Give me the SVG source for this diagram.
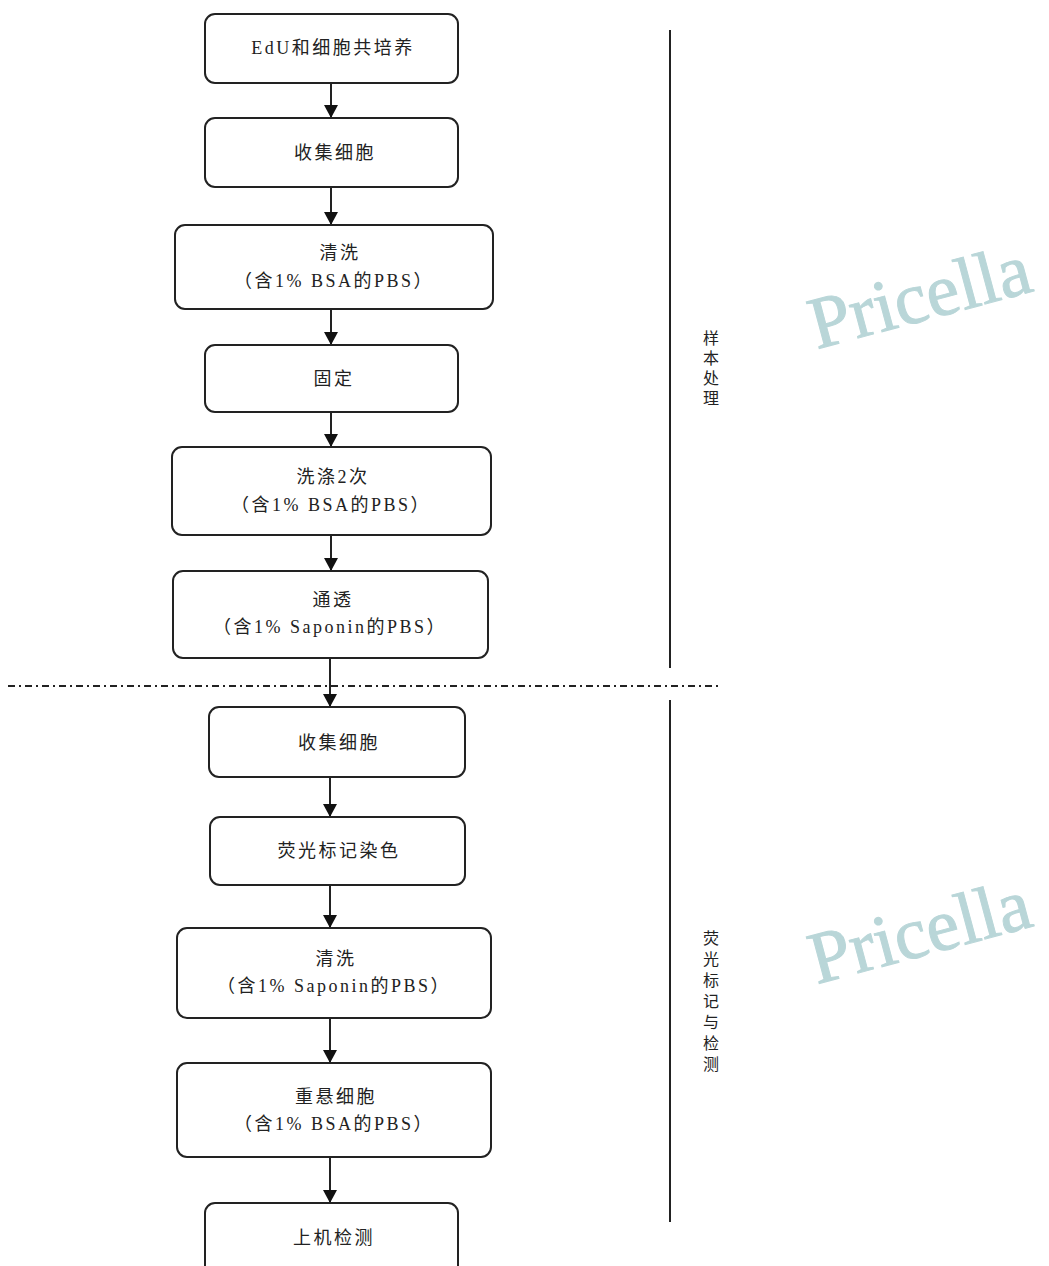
<svg xmlns="http://www.w3.org/2000/svg" width="1049" height="1266" viewBox="0 0 1049 1266">
<style>
.box{fill:#fff;stroke:#222;stroke-width:2}
.t{font-family:"Liberation Serif","Noto Sans CJK SC",serif;font-size:18px;fill:#222;text-anchor:middle;letter-spacing:2.5px}
.side{font-family:"Liberation Serif","Noto Sans CJK SC",serif;font-size:16px;fill:#222;text-anchor:middle}
.c{stroke:#222;stroke-width:2;fill:none;marker-end:url(#ah)}
.wm{font-family:"Liberation Serif",serif;font-size:74px;fill:#b9d6d8;text-anchor:middle;stroke:#b9d6d8;stroke-width:1}
</style>
<defs>
<marker id="ah" viewBox="0 0 13 14" refX="13" refY="7" markerWidth="13" markerHeight="14" markerUnits="userSpaceOnUse" orient="auto">
<path d="M0,0 L13,7 L0,14 Z" fill="#111"/>
</marker>
</defs>
<rect width="1049" height="1266" fill="#fff"/>
<g id="watermarks">
<text class="wm" transform="translate(926,320) rotate(-15)">Pricella</text>
<text class="wm" transform="translate(926,955) rotate(-15)">Pricella</text>
</g>
<g id="dividers">
<line x1="670" y1="30" x2="670" y2="668" stroke="#222" stroke-width="2"/>
<line x1="670" y1="700" x2="670" y2="1222" stroke="#222" stroke-width="2"/>
<line x1="8" y1="686" x2="722" y2="686" stroke="#222" stroke-width="2" stroke-dasharray="7,4,2,4"/>
</g>
<g id="connectors">
<line class="c" x1="331" y1="83" x2="331" y2="118"/>
<line class="c" x1="331" y1="187" x2="331" y2="225"/>
<line class="c" x1="331" y1="309" x2="331" y2="345"/>
<line class="c" x1="331" y1="412" x2="331" y2="447"/>
<line class="c" x1="331" y1="535" x2="331" y2="571"/>
<line class="c" x1="330" y1="658" x2="330" y2="707"/>
<line class="c" x1="330" y1="777" x2="330" y2="817"/>
<line class="c" x1="330" y1="885" x2="330" y2="928"/>
<line class="c" x1="330" y1="1018" x2="330" y2="1063"/>
<line class="c" x1="330" y1="1157" x2="330" y2="1203"/>
</g>
<g id="n1"><rect class="box" x="205" y="14" width="253" height="69" rx="10"/><text class="t" x="333" y="54">EdU和细胞共培养</text></g>
<g id="n2"><rect class="box" x="205" y="118" width="253" height="69" rx="10"/><text class="t" x="335" y="159">收集细胞</text></g>
<g id="n3"><rect class="box" x="175" y="225" width="318" height="84" rx="10"/><text class="t" x="340" y="259">清洗</text><text class="t" x="334" y="287">（含1% BSA的PBS）</text></g>
<g id="n4"><rect class="box" x="205" y="345" width="253" height="67" rx="10"/><text class="t" x="334" y="385">固定</text></g>
<g id="n5"><rect class="box" x="172" y="447" width="319" height="88" rx="10"/><text class="t" x="333" y="483">洗涤2次</text><text class="t" x="331" y="511">（含1% BSA的PBS）</text></g>
<g id="n6"><rect class="box" x="173" y="571" width="315" height="87" rx="10"/><text class="t" x="333" y="606">通透</text><text class="t" x="330" y="633">（含1% Saponin的PBS）</text></g>
<g id="n7"><rect class="box" x="209" y="707" width="256" height="70" rx="10"/><text class="t" x="339" y="749">收集细胞</text></g>
<g id="n8"><rect class="box" x="210" y="817" width="255" height="68" rx="10"/><text class="t" x="339" y="857">荧光标记染色</text></g>
<g id="n9"><rect class="box" x="177" y="928" width="314" height="90" rx="10"/><text class="t" x="336" y="965">清洗</text><text class="t" x="334" y="992">（含1% Saponin的PBS）</text></g>
<g id="n10"><rect class="box" x="177" y="1063" width="314" height="94" rx="10"/><text class="t" x="336" y="1103">重悬细胞</text><text class="t" x="334" y="1130">（含1% BSA的PBS）</text></g>
<g id="n11"><rect class="box" x="205" y="1203" width="253" height="80" rx="10"/><text class="t" x="334" y="1244">上机检测</text></g>
<g id="label1">
<text class="side" x="711" y="344">样</text>
<text class="side" x="711" y="364">本</text>
<text class="side" x="711" y="384">处</text>
<text class="side" x="711" y="404">理</text>
</g>
<g id="label2">
<text class="side" x="711" y="944">荧</text>
<text class="side" x="711" y="965">光</text>
<text class="side" x="711" y="986">标</text>
<text class="side" x="711" y="1007">记</text>
<text class="side" x="711" y="1028">与</text>
<text class="side" x="711" y="1049">检</text>
<text class="side" x="711" y="1070">测</text>
</g>
</svg>
